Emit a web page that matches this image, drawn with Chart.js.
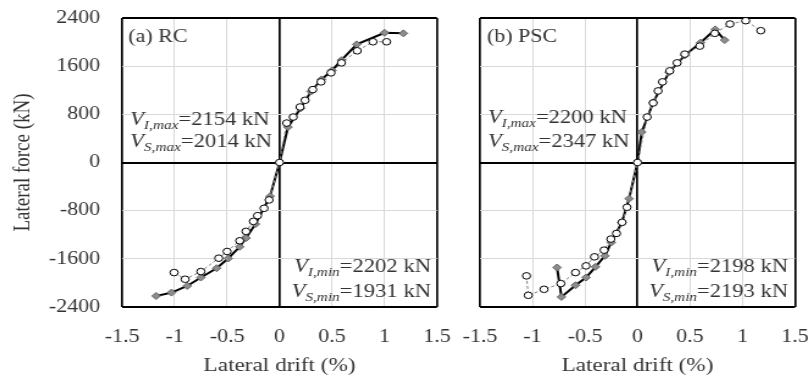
<!DOCTYPE html>
<html>
<head>
<meta charset="utf-8">
<script src="https://cdn.jsdelivr.net/npm/chart.js@4.4.1/dist/chart.umd.min.js"></script>
<style>
  body { margin: 0; background: #fff; }
  #wrap { position: relative; width: 809px; height: 380px; }
  #rc { position: absolute; left: 0; top: 0; width: 452px !important; height: 380px !important; }
  #psc { position: absolute; left: 452px; top: 0; width: 357px !important; height: 380px !important; }
</style>
</head>
<body>
<div id="wrap">
  <canvas id="rc"></canvas>
  <canvas id="psc"></canvas>
</div>
<script>
const xTicks = [-1.5, -1, -0.5, 0, 0.5, 1, 1.5];
const yTicks = [-2400, -1600, -800, 0, 800, 1600, 2400];

// (a) RC
const rcTestX = [-1.005, -0.9, -0.75, -0.58, -0.5, -0.38, -0.32, -0.25, -0.21, -0.148, -0.1, 0, 0.068, 0.13, 0.195, 0.243, 0.316, 0.395, 0.49, 0.59, 0.74, 0.89, 1.02];
const rcTestY = [-1828, -1939, -1811, -1589, -1478, -1300, -1144, -978, -883, -761, -622, 0, 655, 755, 922, 1033, 1211, 1339, 1489, 1655, 1855, 2005, 2005];
const rcAnaX = [-1.176, -1.03, -0.88, -0.75, -0.6, -0.49, -0.38, -0.32, -0.23, -0.09, 0, 0.08, 0.2, 0.3, 0.4, 0.5, 0.59, 0.735, 1.0, 1.18];
const rcAnaY = [-2217, -2161, -2050, -1911, -1756, -1594, -1400, -1256, -1022, -560, 0, 588, 900, 1180, 1380, 1530, 1700, 1962, 2155, 2145];

// (b) PSC
const pscTestX = [-1.057, -1.04, -0.89, -0.73, -0.59, -0.49, -0.41, -0.318, -0.254, -0.2, -0.147, -0.1, 0, 0.092, 0.149, 0.196, 0.238, 0.307, 0.377, 0.45, 0.593, 0.736, 0.88, 1.03, 1.174];
const pscTestY = [-1883, -2206, -2106, -2011, -1828, -1717, -1567, -1456, -1272, -1178, -994, -744, 0, 755, 989, 1189, 1339, 1522, 1655, 1800, 1933, 2145, 2300, 2355, 2189];
const pscAnaX = [-0.766, -0.724, -0.59, -0.49, -0.4, -0.31, -0.25, -0.15, -0.08, 0, 0.04, 0.15, 0.3, 0.45, 0.6, 0.74, 0.83];
const pscAnaY = [-1744, -2233, -2039, -1911, -1733, -1550, -1328, -1000, -600, 0, 505, 1000, 1500, 1780, 1990, 2211, 2033];

const FONT = "'Liberation Serif', 'Times New Roman', serif";
const TXT = "#333";
// the original figure is stretched sideways; draw narrower and widen with CSS
const S = 1.22;

function pts(xs, ys) {
  return xs.map((x, i) => ({ x: x, y: ys[i] }));
}

function gridColor(c) {
  const v = c.tick.value;
  const s = c.scale;
  return (v === 0 || v === s.min || v === s.max) ? "#000" : "#d9d9d9";
}
function gridWidth(c) {
  const v = c.tick.value;
  const s = c.scale;
  if (v === 0 || v === s.min || v === s.max) return s.axis === "x" ? 1.7 : 2;
  return 1;
}

function noPad(s) {
  s.paddingLeft = 0;
  s.paddingRight = 0;
  s.paddingTop = 0;
  s.paddingBottom = 0;
}

// rich text notes with italic subscripts
const notes = {
  id: "notes",
  afterDraw(chart, args, opts) {
    const ctx = chart.ctx;
    const a = chart.chartArea;
    ctx.save();
    ctx.fillStyle = TXT;
    ctx.textBaseline = "alphabetic";
    ctx.textAlign = "left";
    opts.items.forEach(function (it) {
      const parts = it.parts.map(function (p) {
        const f = (p.it ? "italic " : "") + p.size + "px " + FONT;
        ctx.font = f;
        return { t: p.t, f: f, w: ctx.measureText(p.t).width, dy: p.dy || 0 };
      });
      const total = parts.reduce((s, p) => s + p.w, 0);
      let x = it.right ? a.right - it.dx / S - total : a.left + it.dx / S;
      const y = it.bottom ? a.bottom - it.dy : a.top + it.dy;
      parts.forEach(function (p) {
        ctx.font = p.f;
        ctx.fillText(p.t, x, y + p.dy);
        x += p.w;
      });
    });
    ctx.restore();
  },
};

function vText(sub, rest) {
  return [
    { t: "V", it: true, size: 18.5 },
    { t: sub, it: true, size: 12.5, dy: 4 },
    { t: rest, size: 18.5 },
  ];
}

function makeChart(id, cssW, testX, testY, anaX, anaY, showY, items, yWidth, padRight) {
  const cv = document.getElementById(id);
  cv.width = Math.round(cssW / S);
  cv.height = 380;
  return new Chart(cv, {
    type: "scatter",
    data: {
      datasets: [
        {
          label: "Test",
          data: pts(testX, testY),
          showLine: true,
          borderColor: "#7f7f7f",
          borderWidth: 1,
          borderDash: [3, 2],
          pointStyle: "circle",
          pointRadius: 3.3,
          pointBackgroundColor: "#fff",
          pointBorderColor: "#000",
          pointBorderWidth: 1,
          clip: false,
        },
        {
          label: "Analysis",
          data: pts(anaX, anaY),
          showLine: true,
          borderColor: "#000",
          borderWidth: 2,
          pointStyle: "rectRot",
          pointRadius: 3.5,
          pointBackgroundColor: "#8c8c8c",
          pointBorderColor: "#666",
          pointBorderWidth: 1,
          clip: false,
        },
      ],
    },
    options: {
      responsive: false,
      animation: false,
      layout: { padding: { top: 18, right: padRight / S, left: 0, bottom: 0 } },
      plugins: {
        legend: { display: false },
        tooltip: { enabled: false },
        notes: { items: items },
      },
      scales: {
        x: {
          type: "linear",
          min: -1.5,
          max: 1.5,
          afterBuildTicks: (s) => { s.ticks = xTicks.map((v) => ({ value: v })); },
          afterFit: (s) => { s.height = 73; noPad(s); },
          border: { display: false },
          grid: { color: gridColor, lineWidth: gridWidth, drawTicks: false },
          ticks: {
            padding: 19,
            color: TXT,
            font: { family: FONT, size: 18 },
            callback: (v) => String(v),
          },
          title: {
            display: true,
            text: "Lateral drift (%)",
            color: TXT,
            font: { family: FONT, size: 19 },
            padding: { top: 0, bottom: 3 },
          },
        },
        y: {
          type: "linear",
          min: -2400,
          max: 2400,
          afterBuildTicks: (s) => { s.ticks = yTicks.map((v) => ({ value: v })); },
          afterFit: (s) => { s.width = yWidth / S; noPad(s); },
          border: { display: false },
          grid: { color: gridColor, lineWidth: gridWidth, drawTicks: false },
          ticks: {
            display: showY,
            padding: 22 / S,
            color: TXT,
            font: { family: FONT, size: 18 },
            callback: (v) => String(v),
          },
          title: {
            display: showY,
            text: "Lateral force (kN)",
            color: TXT,
            font: { family: FONT, size: 19 },
            padding: { top: 23 / S - 11.4, bottom: 0 },
          },
        },
      },
    },
    plugins: [notes],
  });
}

makeChart("rc", 452, rcTestX, rcTestY, rcAnaX, rcAnaY, true, [
  { dx: 6, dy: 24, parts: [{ t: "(a) RC", size: 18 }] },
  { dx: 8, dy: 107, parts: vText("I,max", "=2154 kN") },
  { dx: 8, dy: 129, parts: vText("S,max", "=2014 kN") },
  { right: true, bottom: true, dx: 6, dy: 35, parts: vText("I,min", "=2202 kN") },
  { right: true, bottom: true, dx: 6, dy: 10, parts: vText("S,min", "=1931 kN") },
], 122, 15);

makeChart("psc", 357, pscTestX, pscTestY, pscAnaX, pscAnaY, false, [
  { dx: 7, dy: 24, parts: [{ t: "(b) PSC", size: 18 }] },
  { dx: 8, dy: 105, parts: vText("I,max", "=2200 kN") },
  { dx: 8, dy: 129, parts: vText("S,max", "=2347 kN") },
  { right: true, bottom: true, dx: 7, dy: 35, parts: vText("I,min", "=2198 kN") },
  { right: true, bottom: true, dx: 7, dy: 10, parts: vText("S,min", "=2193 kN") },
], 28, 14);
</script>
</body>
</html>
